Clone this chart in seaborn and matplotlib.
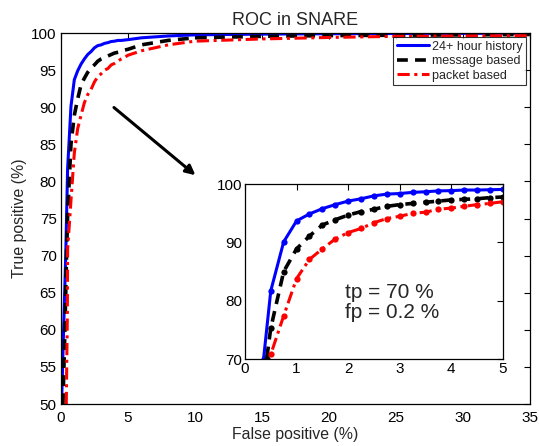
import numpy as np
import pandas as pd
import matplotlib
matplotlib.use("Agg")
import matplotlib.pyplot as plt
import seaborn as sns

sns.set_theme(style="white")
plt.rcParams['font.family'] = ['Liberation Sans', 'DejaVu Sans']

series_names = ["24+ hour history", "message based", "packet based"]

fp_grid = [0.5, 0.75, 1.0, 1.25, 1.5, 1.75, 2.0, 2.25, 2.5, 2.75, 3.0,
           3.25, 3.5, 3.75, 4.0, 4.25, 4.5, 4.75, 5.0]
tp_history = [81.7, 90.1, 93.7, 94.9, 95.8, 96.5, 97.1, 97.5, 98.0, 98.3, 98.4,
              98.6, 98.7, 98.85, 98.9, 99.0, 99.0, 99.05, 99.1]
tp_message = [75.3, 85.0, 88.9, 91.1, 93.0, 93.9, 94.7, 95.3, 95.7, 96.2, 96.5,
              96.7, 96.9, 97.1, 97.3, 97.4, 97.5, 97.7, 97.8]
tp_packet = [70.8, 77.4, 83.8, 87.1, 88.9, 90.6, 91.7, 92.4, 93.4, 94.1, 94.5,
             95.0, 95.2, 95.7, 95.9, 96.2, 96.5, 96.7, 97.0]

# low-end (steep) part and tail of each curve
fp_low_history = [0.05, 0.2, 0.36]
tp_low_history = [50.0, 60.0, 70.0]
fp_low_message = [0.15, 0.3, 0.42]
tp_low_message = [50.0, 60.0, 70.0]
fp_low_packet = [0.4, 0.48]
tp_low_packet = [50.0, 62.0]

fp_tail = [6, 8, 10, 15, 20, 25, 30, 35]
tp_tail_history = [99.35, 99.6, 99.75, 99.85, 99.9, 99.93, 99.95, 99.97]
tp_tail_message = [98.4, 99.0, 99.35, 99.55, 99.65, 99.7, 99.75, 99.8]
tp_tail_packet = [97.6, 98.4, 98.9, 99.2, 99.4, 99.55, 99.6, 99.65]

main_xticks = [0, 5, 10, 15, 20, 25, 30, 35]
main_yticks = [50, 55, 60, 65, 70, 75, 80, 85, 90, 95, 100]
inset_xticks = [0, 1, 2, 3, 4, 5]
inset_yticks = [70, 80, 90, 100]


def build(fp_low, tp_low, tp_mid, tp_tail, name):
    fp = list(fp_low) + list(fp_grid) + list(fp_tail)
    tp = list(tp_low) + list(tp_mid) + list(tp_tail)
    return pd.DataFrame({"fp": fp, "tp": tp, "series": name})

df_h = build(fp_low_history, tp_low_history, tp_history, tp_tail_history, series_names[0])
df_m = build(fp_low_message, tp_low_message, tp_message, tp_tail_message, series_names[1])
df_p = build(fp_low_packet, tp_low_packet, tp_packet, tp_tail_packet, series_names[2])

styles = [
    dict(color="#0000ff", linestyle="-", linewidth=2.2),
    dict(color="black", linestyle=(0, (3, 2)), linewidth=2.6),
    dict(color="#ff0000", linestyle=(0, (4, 1.5, 1, 1.5)), linewidth=2.2),
]

fig = plt.figure(figsize=(5.39, 4.46), dpi=100)
ax = fig.add_axes([0.113, 0.094, 0.870, 0.832])

for d, st in zip([df_h, df_m, df_p], styles):
    sns.lineplot(data=d, x="fp", y="tp", sort=False, estimator=None, ax=ax,
                 label=d["series"].iloc[0], **st)

ax.set_xlim(0, 35)
ax.set_ylim(50, 100)
ax.set_xticks(main_xticks)
ax.set_yticks(main_yticks)
ax.set_xlabel("False positive (%)", fontsize=11.4, labelpad=1.5)
ax.set_ylabel("True positive (%)", fontsize=11.4, labelpad=3)
ax.set_title("ROC in SNARE", fontsize=13, pad=5.5)
ax.tick_params(direction="in", top=True, right=True, length=4, width=0.8,
               labelsize=11, colors="black")
ax.tick_params(axis="x", pad=5)
ax.tick_params(axis="y", pad=3)
for s in ax.spines.values():
    s.set_color("black")
    s.set_linewidth(0.9)

leg = ax.legend(loc="upper right", fontsize=9, frameon=True, fancybox=False,
                borderpad=0.3, labelspacing=0.2, handlelength=2.6,
                handletextpad=0.2, borderaxespad=0.3)
leg.get_frame().set_edgecolor("black")
leg.get_frame().set_linewidth(0.8)

ax.annotate("", xy=(10.2, 80.6), xytext=(3.8, 90.2),
            arrowprops=dict(arrowstyle="-|>", color="black", lw=2.2,
                            mutation_scale=14))

# inset
axi = fig.add_axes([0.4545, 0.195, 0.4785, 0.392])
for d, st in zip([df_h, df_m, df_p], styles):
    sns.lineplot(data=d, x="fp", y="tp", sort=False, estimator=None, ax=axi,
                 marker="o", markersize=4.5, markeredgewidth=0,
                 markerfacecolor=st["color"], legend=False, **st)
axi.set_xlim(0, 5)
axi.set_ylim(70, 100)
axi.set_xticks(inset_xticks)
axi.set_yticks(inset_yticks)
axi.set_xlabel("")
axi.set_ylabel("")
axi.tick_params(direction="in", top=True, right=True, length=4, width=0.8,
                labelsize=11, pad=2, colors="black")
for s in axi.spines.values():
    s.set_color("black")
    s.set_linewidth(0.9)
axi.set_facecolor("white")
axi.text(1.93, 79.7, "tp = 70 %\nfp = 0.2 %", fontsize=15, ha="left",
         va="center", linespacing=1.05)

fig.savefig("out.png", dpi=100)
